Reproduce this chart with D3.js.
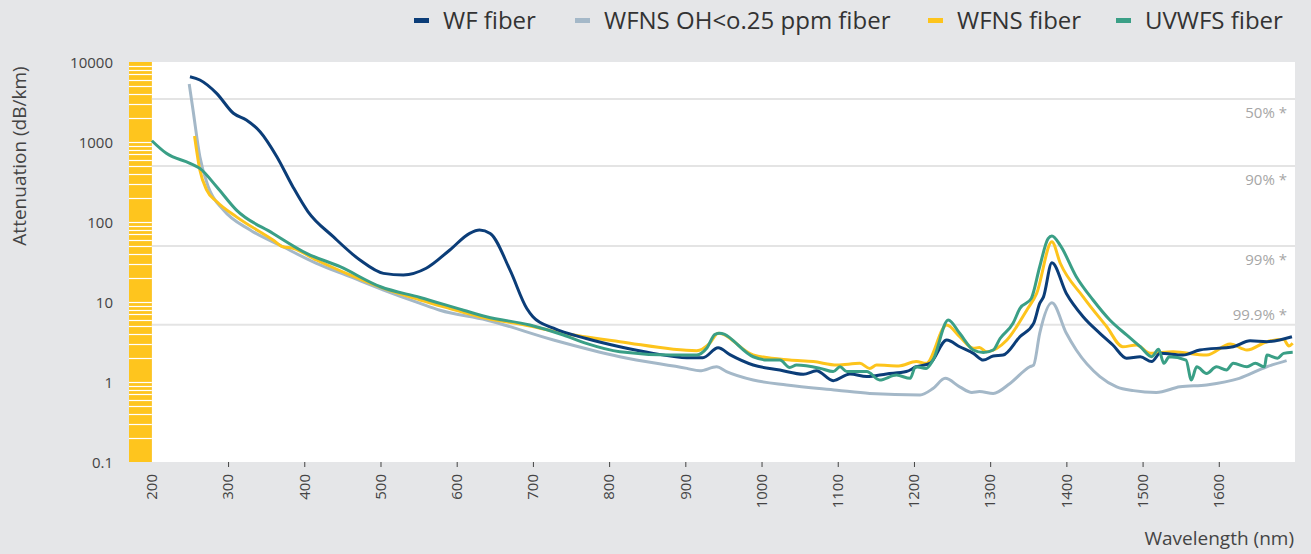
<!DOCTYPE html>
<meta charset="utf-8">
<script src="https://d3js.org/d3.v7.min.js"></script>
<style>
  body { margin: 0; background: #e5e6e8; }
  text { font-family: "Open Sans", sans-serif; }
</style>
<svg id="chart" width="1311" height="554"></svg>
<script>
// series: wavelength (nm) and attenuation (dB/km)
var wfWave = [250, 263, 285, 307, 324, 342, 364, 385, 405, 438, 473, 504, 530, 560, 591, 617, 630, 644, 670, 692, 700, 727, 770, 814, 858, 902, 923, 943, 959, 989, 1024, 1055, 1072, 1094, 1116, 1138, 1164, 1190, 1203, 1221, 1243, 1260, 1278, 1291, 1304, 1317, 1339, 1357, 1365, 1370, 1381, 1400, 1422, 1444, 1461, 1479, 1497, 1512, 1523, 1553, 1575, 1619, 1641, 1663, 1696];
var wfAtt = [6550, 5960, 4060, 2285, 1884, 1345, 655, 276, 134, 65.5, 33.5, 22.8, 21.8, 26.4, 44.7, 72.2, 79.4, 72, 25, 8.3, 6.55, 4.7, 3.5, 2.76, 2.28, 2.01, 2.01, 2.68, 2.18, 1.63, 1.41, 1.25, 1.38, 1.04, 1.26, 1.17, 1.26, 1.35, 1.55, 1.71, 3.35, 2.76, 2.28, 1.88, 2.11, 2.17, 3.68, 5.41, 9.6, 11.6, 31, 12.8, 6.55, 4.06, 2.9, 1.98, 2.07, 1.8, 2.28, 2.17, 2.51, 2.76, 3.28, 3.19, 3.68];

var ohWave = [249, 254, 263, 274, 294, 329, 372, 416, 460, 504, 552, 578, 639, 727, 814, 902, 919, 941, 954, 989, 1033, 1099, 1142, 1208, 1225, 1241, 1260, 1276, 1286, 1304, 1326, 1352, 1357, 1365, 1381, 1400, 1413, 1444, 1466, 1488, 1518, 1549, 1584, 1627, 1663, 1689];
var ohAtt = [5310, 2510, 655, 276, 141, 79.4, 49, 30.4, 20.7, 14.1, 9.6, 7.9, 5.96, 3.35, 2.07, 1.48, 1.38, 1.55, 1.35, 1.06, 0.917, 0.79, 0.72, 0.69, 0.83, 1.11, 0.87, 0.74, 0.76, 0.72, 0.96, 1.55, 1.63, 4.06, 9.8, 4.06, 2.51, 1.17, 0.87, 0.78, 0.74, 0.87, 0.92, 1.11, 1.55, 1.85];

var wfnsWave = [256, 263, 272, 285, 311, 359, 372, 385, 416, 460, 504, 552, 591, 630, 696, 740, 814, 915, 932, 943, 989, 1037, 1068, 1099, 1129, 1142, 1151, 1180, 1203, 1216, 1243, 1260, 1278, 1286, 1295, 1322, 1348, 1361, 1381, 1392, 1422, 1453, 1474, 1492, 1510, 1540, 1584, 1615, 1637, 1663, 1685, 1692, 1697];
var wfnsAtt = [1190, 447, 251, 180, 116, 59.6, 49, 47, 33.5, 21.8, 14.8, 10.6, 8.3, 6.55, 5.0, 4.06, 3.19, 2.46, 3.05, 4.06, 2.18, 1.88, 1.80, 1.63, 1.71, 1.48, 1.63, 1.59, 1.80, 1.71, 5.16, 3.68, 2.64, 2.7, 2.39, 3.35, 7.9, 12.8, 56.7, 30.5, 11.6, 4.9, 2.76, 2.9, 2.28, 2.39, 2.17, 2.98, 2.51, 3.19, 3.4, 2.82, 3.05];

var uvWave = [200, 219, 250, 263, 285, 311, 359, 403, 447, 500, 552, 609, 639, 696, 740, 770, 814, 880, 915, 928, 939, 945, 989, 1007, 1024, 1037, 1046, 1077, 1094, 1103, 1112, 1138, 1155, 1177, 1195, 1202, 1216, 1225, 1245, 1260, 1278, 1291, 1304, 1313, 1330, 1339, 1354, 1365, 1376, 1381, 1392, 1413, 1435, 1457, 1479, 1497, 1512, 1521, 1528, 1535, 1557, 1564, 1571, 1584, 1597, 1610, 1619, 1637, 1648, 1660, 1663, 1677, 1685, 1697];
var uvAtt = [1037, 722, 542, 468, 276, 141, 72, 40.6, 27.6, 15.5, 11.4, 7.9, 6.55, 5.16, 3.87, 3.04, 2.39, 2.18, 2.18, 2.64, 3.95, 4.06, 2.07, 1.88, 1.88, 1.52, 1.63, 1.48, 1.35, 1.55, 1.35, 1.35, 1.06, 1.22, 1.11, 1.55, 1.48, 1.88, 5.96, 4.06, 2.51, 2.33, 2.51, 3.5, 5.41, 8.3, 11.1, 27.6, 62, 66.8, 51, 20.7, 10.6, 5.96, 3.87, 2.76, 2.07, 2.56, 1.71, 2.07, 1.88, 1.06, 1.55, 1.28, 1.55, 1.41, 1.71, 1.55, 1.71, 1.55, 2.17, 1.98, 2.28, 2.35];

var seriesNames = ["WF fiber", "WFNS OH<o.25 ppm fiber", "WFNS fiber", "UVWFS fiber"];
var seriesColors = ["#0b3d78", "#a4b8c8", "#fdc41c", "#3a9f86"];

var xTicks = [200, 300, 400, 500, 600, 700, 800, 900, 1000, 1100, 1200, 1300, 1400, 1500, 1600];
var yTicks = [0.1, 1, 10, 100, 1000, 10000];
var yTickLabels = ["0.1", "1", "10", "100", "1000", "10000"];

// transmission reference lines (dB/km) and labels
var gridValues = [3450, 500, 50, 5.2];
var gridLabels = ["50%", "90%", "99%", "99.9%"];

var svg = d3.select("#chart");

var x = d3.scaleLinear().domain([170, 1700]).range([129, 1295]);
var y = d3.scaleLog().domain([0.1, 10000]).range([462, 62]);

// white plot area
svg.append("rect")
    .attr("x", x(200)).attr("y", y(10000))
    .attr("width", x(1700) - x(200)).attr("height", y(0.1) - y(10000))
    .attr("fill", "#fff");

// yellow band with log ticks
svg.append("rect")
    .attr("x", x(170)).attr("y", y(10000))
    .attr("width", x(200) - x(170)).attr("height", y(0.1) - y(10000))
    .attr("fill", "#fec51e");

svg.append("g")
  .selectAll("line")
  .data(y.ticks().filter(function(d){ return d > 0.1 && d < 10000; }))
  .enter().append("line")
    .attr("x1", x(170)).attr("x2", x(200))
    .attr("y1", function(d){ return Math.round(y(d)) + 0.5; })
    .attr("y2", function(d){ return Math.round(y(d)) + 0.5; })
    .style("stroke", "#fff")
    .style("stroke-width", 1.2);

// reference lines
svg.append("g")
  .selectAll("line")
  .data(gridValues)
  .enter().append("line")
    .attr("x1", x(200)).attr("x2", x(1700))
    .attr("y1", function(d){ return y(d); })
    .attr("y2", function(d){ return y(d); })
    .style("stroke", "#e4e4e4")
    .style("stroke-width", 2);

svg.append("g")
  .selectAll("text")
  .data(gridValues)
  .enter().append("text")
    .attr("x", 1287)
    .attr("y", function(d, i){ return i == 3 ? y(d) - 5 : y(d) + 19; })
    .attr("text-anchor", "end")
    .style("font-size", "15px")
    .style("fill", "#a6a6a6")
    .text(function(d, i){ return gridLabels[i] + " *"; });

// x axis
var xAxis = svg.append("g")
    .attr("transform", "translate(0," + y(0.1) + ")")
    .call(d3.axisBottom(x).tickValues(xTicks).tickSize(5).tickFormat(""));
xAxis.select(".domain").remove();
xAxis.selectAll(".tick line").style("stroke", "#444")
    .style("display", function(d){ return d == 200 ? "none" : null; });

svg.append("g")
  .selectAll("text")
  .data(xTicks)
  .enter().append("text")
    .attr("transform", function(d){ return "translate(" + x(d) + ",474) rotate(-90)"; })
    .attr("text-anchor", "end")
    .attr("dy", "0.35em")
    .style("font-size", "15px")
    .style("fill", "#444")
    .text(function(d){ return d; });

// y axis labels
svg.append("g")
  .selectAll("text")
  .data(yTicks)
  .enter().append("text")
    .attr("x", 113)
    .attr("y", function(d){ return y(d); })
    .attr("dy", "0.4em")
    .attr("text-anchor", "end")
    .style("font-size", "15px")
    .style("fill", "#444")
    .text(function(d, i){ return yTickLabels[i]; });

svg.append("text")
    .attr("transform", "translate(26,156) rotate(-90)")
    .attr("text-anchor", "middle")
    .style("font-size", "19px")
    .style("fill", "#444")
    .text("Attenuation (dB/km)");

svg.append("text")
    .attr("x", 1294).attr("y", 545)
    .attr("text-anchor", "end")
    .style("font-size", "19px")
    .style("fill", "#444")
    .text("Wavelength (nm)");

// curves
var line = d3.line()
    .x(function(d){ return x(d[0]); })
    .y(function(d){ return y(d[1]); })
    .curve(d3.curveMonotoneX);

var series = [
  { idx: 1, data: d3.zip(ohWave, ohAtt) },
  { idx: 2, data: d3.zip(wfnsWave, wfnsAtt) },
  { idx: 0, data: d3.zip(wfWave, wfAtt) },
  { idx: 3, data: d3.zip(uvWave, uvAtt) }
];

svg.append("g")
  .selectAll("path")
  .data(series)
  .enter().append("path")
    .attr("d", function(d){ return line(d.data); })
    .style("fill", "none")
    .style("stroke", function(d){ return seriesColors[d.idx]; })
    .style("stroke-width", 3)
    .style("stroke-linejoin", "round");

// legend
var legendX = [414, 575, 928, 1116];
var legend = svg.append("g")
  .selectAll("g")
  .data(seriesNames)
  .enter().append("g")
    .attr("transform", function(d, i){ return "translate(" + legendX[i] + ",0)"; });

legend.append("rect")
    .attr("x", 0).attr("y", 18)
    .attr("width", 15).attr("height", 5)
    .attr("fill", function(d, i){ return seriesColors[i]; });

legend.append("text")
    .attr("x", 29).attr("y", 29)
    .style("font-size", "24px")
    .style("fill", "#333")
    .text(function(d){ return d; });
</script>
